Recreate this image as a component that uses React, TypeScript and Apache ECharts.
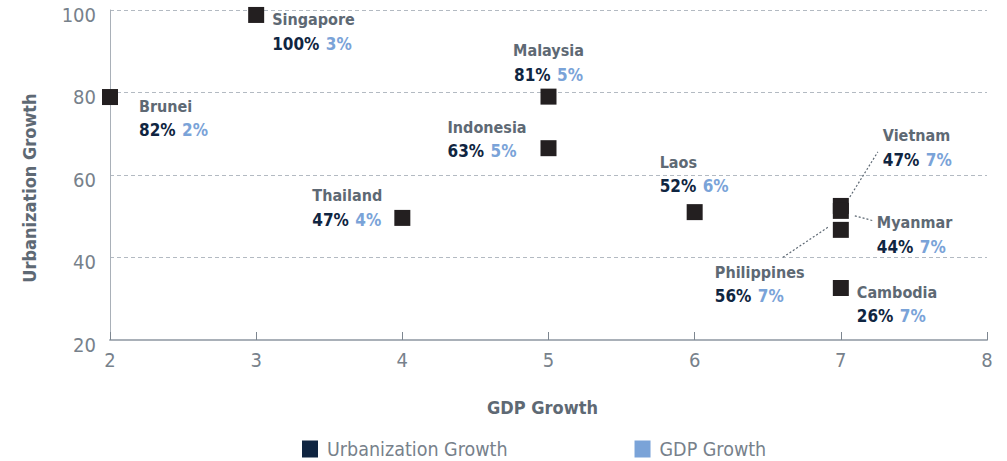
import React, { useEffect, useRef } from "react";
import * as echarts from "echarts";

const countries = ["Singapore", "Brunei", "Malaysia", "Indonesia", "Thailand", "Laos", "Vietnam", "Myanmar", "Philippines", "Cambodia"];
const gdpGrowth = [3, 2, 5, 5, 4, 6, 7, 7, 7, 7];
const urbanGrowth = [98.8, 78.9, 79.0, 66.5, 49.6, 51.0, 52.5, 51.3, 46.7, 32.6];
const urbanShare = ["100%", "82%", "81%", "63%", "47%", "52%", "47%", "44%", "56%", "26%"];
const gdpShare = ["3%", "2%", "5%", "5%", "4%", "6%", "7%", "7%", "7%", "7%"];
const xTicks = [2, 3, 4, 5, 6, 7, 8];
const yTicks = [20, 40, 60, 80, 100];

// label layout (pixel offsets relative to symbol bounding box), kept apart from data
const labelLayout: Record<string, { pos: [number, number]; align: string }> = {
  Singapore: { pos: [24, 1], align: "left" },
  Brunei: { pos: [37, 5], align: "left" },
  Malaysia: { pos: [8, -50], align: "center" },
  Indonesia: { pos: [-93, -25], align: "left" },
  Thailand: { pos: [-82, -26], align: "left" },
  Laos: { pos: [-27, -54], align: "left" },
  Vietnam: { pos: [50, -74], align: "left" },
  Myanmar: { pos: [44, 8], align: "left" },
  Philippines: { pos: [-118, 38.5], align: "left" },
  Cambodia: { pos: [24, 0], align: "left" },
};

// leader line pixel offsets from point centre
const leaders: { name: string; from: [number, number]; to: [number, number] }[] = [
  { name: "Vietnam", from: [9, -9], to: [37, -54] },
  { name: "Myanmar", from: [14, 5], to: [33, 10] },
  { name: "Philippines", from: [-13, -2.5], to: [-58, 27.5] },
];

const FONT = "'DejaVu Sans Condensed', 'Liberation Sans Narrow', 'Roboto', sans-serif";
const NAME_C = "#5e6974";
const URB_C = "#0f2541";
const GDP_C = "#7aa3d8";
const AXIS_TXT = "#77818b";

export default function App() {
  const ref = useRef<HTMLDivElement>(null);
  useEffect(() => {
    document.body.style.margin = "0";
    const chart = echarts.init(ref.current!, null, { renderer: "svg" });
    const scatterData = countries.map((c, i) => {
      const l = labelLayout[c];
      return {
        name: c,
        value: [gdpGrowth[i], urbanGrowth[i]],
        label: {
          show: true,
          position: l.pos,
          align: l.align,
          verticalAlign: "top",
          formatter: `{n|${c}}\n{u|${urbanShare[i]}} {g|${gdpShare[i]}}`,
        },
      };
    });
    const leaderData = leaders.map((l) => {
      const i = countries.indexOf(l.name);
      return [gdpGrowth[i], urbanGrowth[i]];
    });
    chart.setOption({
      animation: false,
      textStyle: { fontFamily: FONT },
      grid: { left: 110, right: 20, top: 10, bottom: 121, containLabel: false },
      legend: {
        top: 439,
        left: 302,
        padding: 0,
        icon: "rect",
        itemWidth: 16,
        itemHeight: 17,
        itemGap: 127,
        textStyle: { fontFamily: FONT, fontSize: 19.5, color: AXIS_TXT, padding: [0, 0, 0, 4] },
        data: ["Urbanization Growth", "GDP Growth"],
      },
      xAxis: {
        type: "value",
        min: xTicks[0],
        max: xTicks[xTicks.length - 1],
        interval: 1,
        name: "GDP Growth",
        nameLocation: "middle",
        nameGap: 58,
        nameTextStyle: { fontFamily: FONT, fontSize: 18, fontWeight: "bold", color: NAME_C, padding: [0, 12, 0, 0] },
        axisLine: { show: true, lineStyle: { color: "#a9b0b8", width: 2 } },
        axisTick: { show: true, inside: true, length: 8, lineStyle: { color: "#7d8690" } },
        axisLabel: { fontFamily: FONT, fontSize: 20, color: AXIS_TXT, margin: 10 },
        splitLine: { show: false },
      },
      yAxis: {
        type: "value",
        min: yTicks[0],
        max: yTicks[yTicks.length - 1],
        interval: 20,
        name: "Urbanization Growth",
        nameLocation: "middle",
        nameGap: 72,
        nameTextStyle: { fontFamily: FONT, fontSize: 18, fontWeight: "bold", color: NAME_C, padding: [0, 26, 0, 0] },
        axisLine: { show: true, lineStyle: { color: "#a9b0b8", width: 1 } },
        axisTick: { show: false },
        axisLabel: { fontFamily: FONT, fontSize: 20, color: AXIS_TXT, margin: 14, verticalAlign: "top", lineHeight: 9 },
        splitLine: { show: true, lineStyle: { color: "#b3bac2", type: [4, 3], width: 1 } },
      },
      series: [
        {
          type: "custom",
          name: "leaders",
          silent: true,
          z: 1,
          data: leaderData,
          renderItem: (params: any, api: any) => {
            const p = api.coord([api.value(0), api.value(1)]);
            const l = leaders[params.dataIndex];
            return {
              type: "line",
              shape: { x1: p[0] + l.from[0], y1: p[1] + l.from[1], x2: p[0] + l.to[0], y2: p[1] + l.to[1] },
              style: { stroke: "#5e6974", lineWidth: 1.2, lineDash: [2, 2] },
            };
          },
        },
        {
          type: "scatter",
          name: "Countries",
          symbol: "rect",
          symbolSize: 16,
          z: 3,
          itemStyle: { color: "#231f20", opacity: 1 },
          label: {
            rich: {
              n: { fontFamily: FONT, fontSize: 16, fontWeight: "bold", color: NAME_C, lineHeight: 24 },
              u: { fontFamily: FONT, fontSize: 17, fontWeight: "bold", color: URB_C, lineHeight: 24 },
              g: { fontFamily: FONT, fontSize: 17, fontWeight: "bold", color: GDP_C, lineHeight: 24, padding: [0, 0, 0, 3] },
            },
          },
          data: scatterData,
        },
        { type: "scatter", name: "Urbanization Growth", data: [], itemStyle: { color: URB_C, opacity: 1 } },
        { type: "scatter", name: "GDP Growth", data: [], itemStyle: { color: GDP_C, opacity: 1 } },
      ],
    });
    return () => chart.dispose();
  }, []);
  return <div ref={ref} style={{ width: 1007, height: 461 }} />;
}
